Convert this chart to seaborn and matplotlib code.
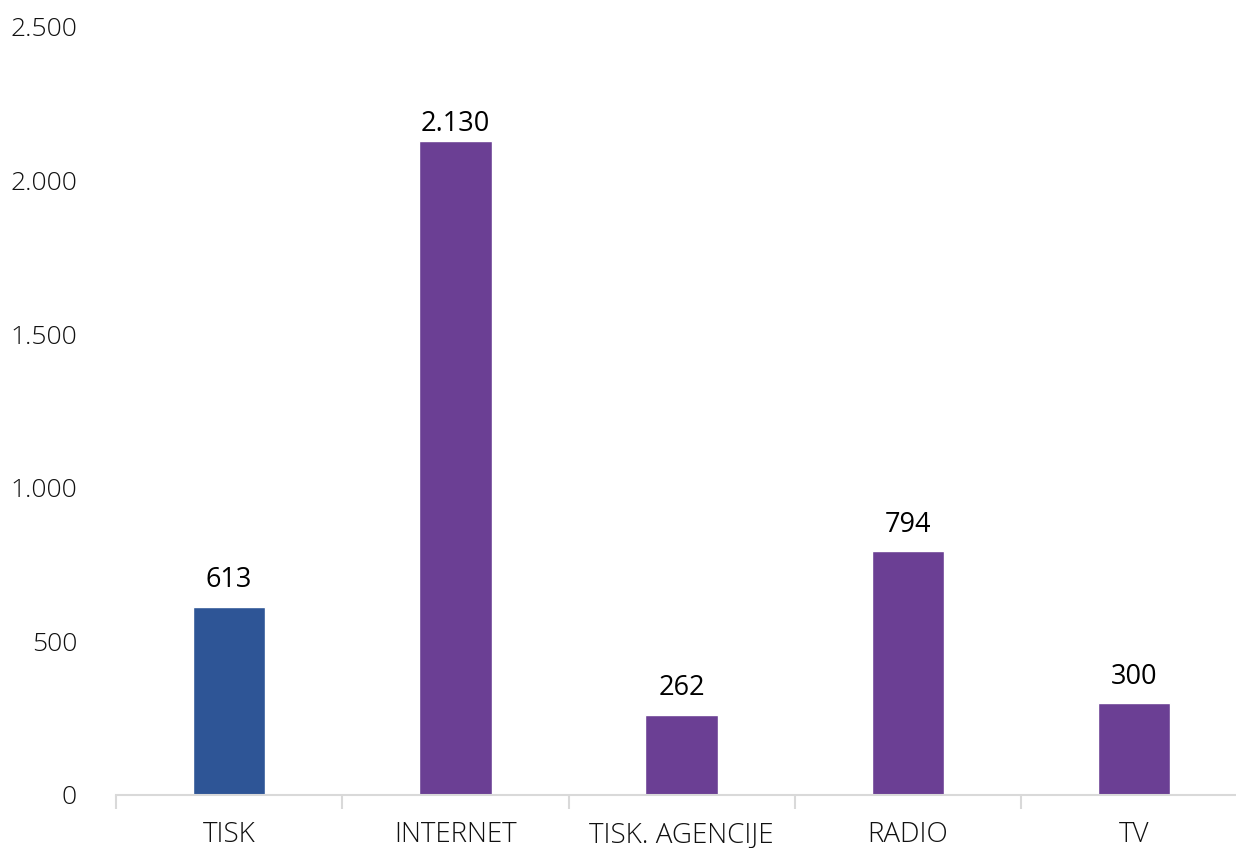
import matplotlib
matplotlib.use("Agg")
import matplotlib.pyplot as plt
import matplotlib.ticker as ticker
import seaborn as sns
import pandas as pd
import numpy as np

categories = ["TISK", "INTERNET", "TISK. AGENCIJE", "RADIO", "TV"]
values = [613, 2130, 262, 794, 300]
colors = ["#2E5596", "#6B3F94", "#6B3F94", "#6B3F94", "#6B3F94"]

df = pd.DataFrame({"kategorija": categories, "broj": values})

sns.set_style("white")
plt.rcParams['font.family'] = ['Open Sans', 'DejaVu Sans']

fig = plt.figure(figsize=(12.36, 8.48), dpi=100)
ax = fig.add_axes([116/1236, 1 - 795/848, 1 - 116/1236, (795 - 27)/848])

sns.barplot(data=df, x="kategorija", y="broj", hue="kategorija",
            palette=colors, width=0.32, legend=False, ax=ax, saturation=1)

def fmt(v, pos=None):
    return f"{int(v):,}".replace(",", ".")

for i, v in enumerate(values):
    off = 10 if v > 2000 else 40
    ax.text(i, v + off, fmt(v), ha="center", va="bottom", fontsize=19.5,
            color="black", family=["Open Sans", "DejaVu Sans"])

ax.set_ylim(0, 2500)
ax.set_xlim(-0.5, 4.45)
ax.yaxis.set_major_locator(ticker.MultipleLocator(500))
ax.yaxis.set_major_formatter(ticker.FuncFormatter(fmt))
ax.set_xlabel("")
ax.set_ylabel("")

for s in ["top", "right", "left"]:
    ax.spines[s].set_visible(False)
ax.spines["bottom"].set_color("#D9D9D9")
ax.spines["bottom"].set_linewidth(1.5)

ax.set_xticks(np.arange(len(categories)))
ax.set_xticklabels(categories)
ax.xaxis.set_minor_locator(ticker.FixedLocator(np.arange(-0.5, len(categories), 1)))
ax.tick_params(axis="x", which="major", bottom=False, length=0, pad=19, labelsize=20, labelcolor="#111111")
ax.tick_params(axis="x", which="minor", bottom=True, length=10, width=1.5, color="#D9D9D9", direction="out")
ax.tick_params(axis="y", length=0, pad=28, labelsize=19, labelcolor="#111111")
for lbl in ax.get_xticklabels() + ax.get_yticklabels():
    lbl.set_fontweight("light")

fig.savefig("out.png", dpi=100)
